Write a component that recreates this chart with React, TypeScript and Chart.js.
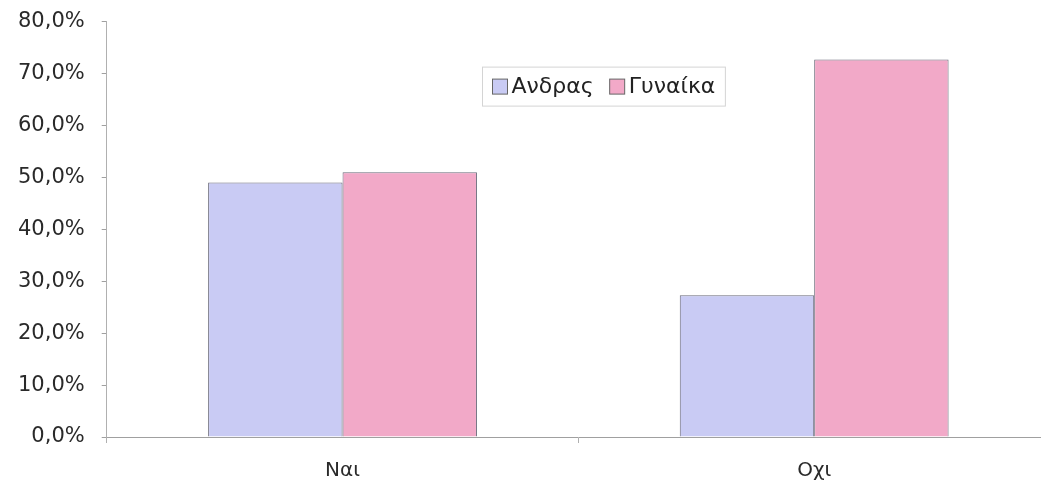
import React, { useEffect, useRef } from "react";
import { Chart, registerables } from "chart.js";

Chart.register(...registerables);

const categories = ["Ναι", "Οχι"];
const seriesNames = ["Ανδρας", "Γυναίκα"];
const andrasValues = [49.0, 27.3];
const gynaikaValues = [51.0, 72.7];
const yMin = 0;
const yMax = 80;
const yStep = 10;

const colors = ["#c9cbf4", "#f2a9c8"];
const FONT_FAMILY = '"DejaVu Sans", "Liberation Sans", Arial, sans-serif';

const boxLegend = {
  id: "boxLegend",
  afterDraw(chart: any) {
    const ctx = chart.ctx as CanvasRenderingContext2D;
    const area = chart.chartArea;
    ctx.save();
    ctx.font = `22px ${FONT_FAMILY}`;
    const sq = 15;
    const gapText = 4;
    const itemGap = 16;
    const padX = 10;
    const items = chart.data.datasets.map((d: any) => ({
      label: d.label as string,
      color: d.backgroundColor as string,
      w: ctx.measureText(d.label).width,
    }));
    let total = padX * 2;
    items.forEach((it: any, i: number) => {
      total += sq + gapText + it.w + (i < items.length - 1 ? itemGap : 0);
    });
    const cx = area.left + (area.right - area.left) * 0.527;
    const x0 = Math.round(cx - total / 2) + 0.5;
    const y0 = area.top + 45.5;
    const h = 39;
    ctx.fillStyle = "#ffffff";
    ctx.fillRect(x0, y0, total, h);
    ctx.strokeStyle = "#d4d4d4";
    ctx.lineWidth = 1;
    ctx.strokeRect(x0, y0, total, h);
    let x = x0 + padX;
    const cy = y0 + h / 2;
    items.forEach((it: any) => {
      ctx.fillStyle = it.color;
      ctx.fillRect(x, cy - sq / 2, sq, sq);
      ctx.strokeStyle = "#666";
      ctx.strokeRect(x, cy - sq / 2, sq, sq);
      x += sq + gapText;
      ctx.fillStyle = "#222";
      ctx.textBaseline = "middle";
      ctx.textAlign = "left";
      ctx.fillText(it.label, x, cy + 1);
      x += it.w + itemGap;
    });
    ctx.restore();
  },
};

export default function App() {
  const ref = useRef<HTMLCanvasElement | null>(null);
  useEffect(() => {
    if (!ref.current) return;
    const chart = new Chart(ref.current, {
      type: "bar",
      data: {
        labels: categories,
        datasets: [
          {
            label: seriesNames[0],
            data: andrasValues,
            backgroundColor: colors[0],
            borderColor: "#6a6a7a",
            borderWidth: 1,
          },
          {
            label: seriesNames[1],
            data: gynaikaValues,
            backgroundColor: colors[1],
            borderColor: "#6a6a7a",
            borderWidth: 1,
          },
        ],
      },
      options: {
        responsive: false,
        animation: false,
        layout: { padding: { top: 2, bottom: 6, left: 1, right: 0 } },
        plugins: {
          legend: { display: false },
          tooltip: { enabled: false },
        },
        datasets: {
          bar: { categoryPercentage: 0.57, barPercentage: 1.0 },
        },
        scales: {
          x: {
            grid: {
              display: true,
              drawOnChartArea: false,
              drawTicks: true,
              tickLength: 6,
              offset: true,
              color: "#b0b0b0",
            },
            border: { display: true, color: "#a0a0a0" },
            ticks: {
              color: "#2a2a2a",
              padding: 16,
              font: { family: FONT_FAMILY, size: 20 },
            },
          },
          y: {
            min: yMin,
            max: yMax,
            grid: {
              display: true,
              drawOnChartArea: false,
              drawTicks: true,
              tickLength: 5,
              color: "#a0a0a0",
            },
            border: { display: true, color: "#b0b0b0" },
            ticks: {
              stepSize: yStep,
              color: "#2a2a2a",
              padding: 17,
              font: { family: FONT_FAMILY, size: 21 },
              callback: (v: any) => Number(v).toFixed(1).replace(".", ",") + "%",
            },
          },
        },
      },
      plugins: [boxLegend],
    });
    return () => chart.destroy();
  }, []);
  return (
    <div
      style={{
        position: "fixed",
        left: 0,
        top: 0,
        width: 1041,
        height: 489,
        overflow: "hidden",
        background: "#fff",
      }}
    >
      <canvas
        ref={ref}
        width={1050}
        height={513}
        style={{ display: "block", marginTop: -8 }}
      />
    </div>
  );
}
